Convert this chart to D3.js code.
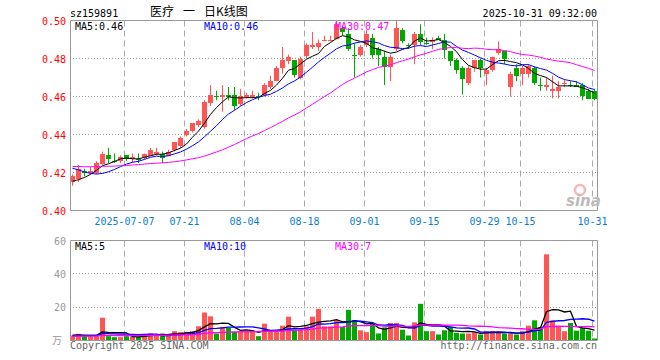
<!DOCTYPE html>
<html>
<head>
<meta charset="utf-8">
<script src="https://cdn.jsdelivr.net/npm/d3@7"></script>
<style>
body { margin: 0; background: #fff; }
svg { display: block; }
text { font-family: "DejaVu Sans Mono", monospace; font-size: 10px; }
</style>
</head>
<body>
<svg width="660" height="360"></svg>
<script>
// trading days shown (2025)
var dates = ["06-24","06-25","06-26","06-27","06-30","07-01","07-02","07-03","07-04",
  "07-07","07-08","07-09","07-10","07-11","07-14","07-15","07-16","07-17","07-18",
  "07-21","07-22","07-23","07-24","07-25","07-28","07-29","07-30","07-31","08-01",
  "08-04","08-05","08-06","08-07","08-08","08-11","08-12","08-13","08-14","08-15",
  "08-18","08-19","08-20","08-21","08-22","08-25","08-26","08-27","08-28","08-29",
  "09-01","09-02","09-03","09-04","09-05","09-08","09-09","09-10","09-11","09-12",
  "09-15","09-16","09-17","09-18","09-19","09-22","09-23","09-24","09-25","09-26",
  "09-29","09-30","10-09","10-10","10-13","10-14","10-15","10-16","10-17",
  "10-20","10-21","10-22","10-23","10-24","10-27","10-28","10-29","10-30","10-31"];

var open = [.415,.417,.421,.420,.420,.425,.429,.426,.426,.429,
  .427,.427,.428,.429,.430,.430,.429,.432,.434,.440,
  .442,.445,.444,.457,.460,.460,.461,.461,.456,.460,
  .460,.460,.461,.465,.468,.475,.479,.479,.470,.481,
  .486,.486,.490,.490,.490,.496,.493,.482,.482,.487,
  .491,.485,.481,.476,.485,.495,.487,.487,.493,.488,
  .489,.491,.490,.484,.479,.475,.467,.475,.479,.472,
  .474,.483,.484,.465,.475,.472,.472,.475,.466,.465,
  .463,.463,.467,.466,.466,.466,.463,.463];
var high = [.419,.424,.422,.423,.426,.431,.433,.430,.429,.429,
  .430,.430,.430,.433,.433,.431,.432,.436,.439,.443,
  .446,.448,.458,.466,.463,.466,.465,.465,.464,.462,
  .463,.462,.467,.471,.476,.486,.482,.479,.481,.488,
  .494,.490,.492,.492,.500,.497,.496,.488,.487,.495,
  .493,.486,.484,.482,.500,.496,.488,.494,.498,.491,
  .491,.492,.493,.484,.480,.476,.476,.479,.480,.475,
  .481,.489,.484,.473,.477,.476,.477,.476,.470,.470,
  .471,.468,.469,.468,.468,.467,.464,.464];
var low = [.413,.415,.418,.419,.419,.424,.425,.425,.425,.426,
  .425,.425,.427,.429,.429,.425,.429,.431,.433,.439,
  .441,.444,.443,.455,.458,.452,.458,.453,.455,.459,
  .459,.458,.460,.464,.468,.472,.477,.470,.469,.480,
  .485,.484,.489,.489,.490,.492,.484,.470,.481,.486,
  .480,.476,.466,.468,.484,.488,.485,.477,.487,.487,
  .485,.490,.480,.476,.472,.461,.466,.473,.470,.466,
  .473,.482,.477,.460,.468,.466,.470,.466,.463,.463,
  .459,.459,.465,.465,.465,.458,.459,.458];
var close = [.418,.422,.420,.421,.425,.430,.427,.426,.428,.427,
  .428,.427,.430,.432,.431,.428,.431,.436,.438,.442,
  .446,.447,.457,.461,.460,.461,.460,.455,.460,.461,
  .461,.460,.466,.468,.475,.479,.481,.471,.480,.487,
  .487,.488,.490,.490,.498,.494,.485,.482,.486,.493,
  .482,.482,.476,.481,.496,.489,.487,.493,.489,.488,
  .490,.490,.485,.479,.474,.469,.475,.479,.475,.474,
  .481,.485,.480,.472,.471,.475,.476,.467,.466,.466,
  .464,.465,.467,.466,.465,.460,.459,.459];

// volume, 万
var volume = [3.0,4.0,2.6,2.6,3.0,13.7,2.6,2.0,2.0,2.6,
  2.2,2.2,3.6,4.2,3.0,4.2,3.0,5.6,5.0,5.0,
  5.6,8.5,16.8,14.5,4.2,8.1,7.5,5.2,5.6,5.6,
  5.6,2.6,10.1,5.6,5.6,8.9,14.3,6.5,6.9,8.5,
  14.3,19.0,8.5,8.5,12.1,8.1,18.4,12.1,6.1,5.0,
  10.1,4.2,7.9,10.5,10.5,6.5,3.0,10.9,22.0,5.6,
  5.6,3.6,6.1,8.1,4.6,4.2,4.2,5.0,3.6,5.6,
  5.6,4.6,4.2,4.2,3.6,5.6,8.9,12.1,8.1,51.7,
  12.1,8.1,5.6,10.5,5.9,7.5,5.9,1.2];

// sessions before the window, estimated from where the MA lines start
var priorClose = [.422,.424,.421,.423,.425,.426,.424,.422,.423,.421,
  .420,.422,.424,.425,.423,.423,.426,.425,.426,.428,
  .430,.431,.429,.428,.427,.418,.414,.413,.414];
var priorVolume = [2.4,2.7,2.2,2.6,2.3,2.9,2.5,2.1,2.6,2.4,
  2.8,2.2,2.5,2.3,2.7,2.4,2.6,2.2,2.5,2.3,
  2.6,2.4,2.2,2.5,2.7,3.1,3.4,3.0,3.2];

var tickDates = ["07-07","07-21","08-04","08-18","09-01","09-15","09-29","10-15","10-31"];
var tickLabels = ["2025-07-07","07-21","08-04","08-18","09-01","09-15","09-29","10-15","10-31"];
var priceTicks = [0.40, 0.42, 0.44, 0.46, 0.48, 0.50];
var volTicks = [20, 40, 60];
var priceMaText = ["MA5:0.46", "MA10:0.46", "MA30:0.47"];
var volMaText = ["MA5:5", "MA10:10", "MA30:7"];

var svg = d3.select("svg");
var RED = "#ff5555", GREEN = "#00a800";
var maColors = ["#000000", "#0000ff", "#ff00ff"];

var x = d3.scaleBand().domain(dates).range([70, 598]);
var yP = d3.scaleLinear().domain([0.40, 0.50]).range([210.5, 20.5]);
var yV = d3.scaleLinear().domain([0, 60]).range([340.5, 240.5]);

function upColor(i) {
    if (close[i] > open[i]) return RED;
    if (close[i] < open[i]) return GREEN;
    return (i == 0 || close[i] >= close[i - 1]) ? RED : GREEN;
}

function movingAvg(prior, series, n) {
    var all = prior.concat(series), off = prior.length;
    return series.map(function(d, i) {
        return d3.mean(all.slice(i + off - n + 1, i + off + 1));
    });
}

// grids
[[20.5, 210.5], [240.5, 340.5]].forEach(function(r) {
    svg.append("g").selectAll("line")
        .data(tickDates)
        .enter().append("line")
        .attr("x1", function(d) { return x(d) + 0.5; })
        .attr("x2", function(d) { return x(d) + 0.5; })
        .attr("y1", r[0]).attr("y2", r[1])
        .attr("stroke", "#aaa")
        .attr("stroke-dasharray", "6,4");
});
svg.append("g").selectAll("line")
    .data(priceTicks.slice(1, 5))
    .enter().append("line")
    .attr("x1", 70).attr("x2", 597)
    .attr("y1", function(d) { return Math.round(yP(d) - 0.5) + 0.5; })
    .attr("y2", function(d) { return Math.round(yP(d) - 0.5) + 0.5; })
    .attr("stroke", "#999")
    .attr("stroke-dasharray", "1,2");
svg.append("g").selectAll("line")
    .data([20, 40])
    .enter().append("line")
    .attr("x1", 70).attr("x2", 597)
    .attr("y1", function(d) { return Math.round(yV(d) - 0.5) + 0.5; })
    .attr("y2", function(d) { return Math.round(yV(d) - 0.5) + 0.5; })
    .attr("stroke", "#999")
    .attr("stroke-dasharray", "1,2");

// candles
var candle = svg.append("g").selectAll("g")
    .data(dates)
    .enter().append("g");
candle.append("line")
    .attr("x1", function(d) { return x(d) + 2.5; })
    .attr("x2", function(d) { return x(d) + 2.5; })
    .attr("y1", function(d, i) { return yP(high[i]); })
    .attr("y2", function(d, i) { return yP(low[i]); })
    .attr("stroke", function(d, i) { return upColor(i); });
candle.append("rect")
    .attr("x", function(d) { return x(d); })
    .attr("width", 5)
    .attr("y", function(d, i) { return Math.round(yP(Math.max(open[i], close[i]))); })
    .attr("height", function(d, i) {
        return Math.max(1, Math.round(yP(Math.min(open[i], close[i])) - yP(Math.max(open[i], close[i]))));
    })
    .attr("fill", function(d, i) { return upColor(i); });

// volume bars
svg.append("g").selectAll("rect")
    .data(volume)
    .enter().append("rect")
    .attr("x", function(d, i) { return x(dates[i]); })
    .attr("width", 5)
    .attr("y", function(d) { return yV(d); })
    .attr("height", function(d) { return 340.5 - yV(d); })
    .attr("fill", function(d, i) { return upColor(i); });

// moving averages
var lineP = d3.line().x(function(d, i) { return x(dates[i]) + 2.5; }).y(function(d) { return yP(d); });
var lineV = d3.line().x(function(d, i) { return x(dates[i]) + 2.5; }).y(function(d) { return yV(d); });
[5, 10, 30].forEach(function(n, k) {
    svg.append("path")
        .attr("d", lineP(movingAvg(priorClose, close, n)))
        .attr("fill", "none").attr("stroke", maColors[k]).attr("stroke-width", 1);
    svg.append("path")
        .attr("d", lineV(movingAvg(priorVolume, volume, n)))
        .attr("fill", "none").attr("stroke", maColors[k]).attr("stroke-width", 1.3);
});

// frames
svg.append("path")
    .attr("d", "M70.5,20.5H597.5V210.5H70.5Z M70.5,240.5H597.5V340.5H70.5Z")
    .attr("fill", "none").attr("stroke", "#999");

// axis labels
svg.append("g").selectAll("text")
    .data(priceTicks)
    .enter().append("text")
    .attr("x", 66).attr("y", function(d) { return yP(d) + 4; })
    .attr("text-anchor", "end").attr("fill", "#ff0000")
    .text(function(d) { return d.toFixed(2); });
svg.append("g").selectAll("text")
    .data(volTicks)
    .enter().append("text")
    .attr("x", 66).attr("y", function(d) { return yV(d) + 4; })
    .attr("text-anchor", "end").attr("fill", "#999")
    .text(function(d) { return d; });
svg.append("text").attr("x", 57).attr("y", 344).attr("text-anchor", "middle")
    .attr("fill", "#999").style("font-family", "'Noto Sans CJK SC'").text("万");
svg.append("g").selectAll("text")
    .data(tickDates)
    .enter().append("text")
    .attr("x", function(d) { return x(d) + 0.5; }).attr("y", 225)
    .attr("text-anchor", "middle").attr("fill", "#0a80d0")
    .text(function(d, i) { return tickLabels[i]; });

// legends
[75, 204, 335].forEach(function(lx, k) {
    svg.append("text").attr("x", lx).attr("y", 30).attr("fill", maColors[k]).text(priceMaText[k]);
    svg.append("text").attr("x", lx).attr("y", 250).attr("fill", maColors[k]).text(volMaText[k]);
});

// header and footer
svg.append("text").attr("x", 70).attr("y", 17).attr("fill", "#000").text("sz159891");
[["医疗", 150], ["一", 183], ["日K线图", 204]].forEach(function(t) {
    svg.append("text").attr("x", t[1]).attr("y", 16).attr("fill", "#000")
        .style("font-family", "'Noto Sans CJK SC'").style("font-size", "12px")
        .text(t[0]);
});
svg.append("text").attr("x", 597).attr("y", 17).attr("text-anchor", "end").attr("fill", "#000")
    .text("2025-10-31 09:32:00");
svg.append("text").attr("x", 70).attr("y", 349).attr("fill", "#666").text("Copyright 2025 SINA.COM");
svg.append("text").attr("x", 597).attr("y", 349).attr("text-anchor", "end").attr("fill", "#666")
    .text("http://finance.sina.com.cn");

// sina mark
svg.append("circle").attr("cx", 580).attr("cy", 190).attr("r", 5)
    .attr("fill", "none").attr("stroke", "#f6b8b8").attr("stroke-width", 2.5);
svg.append("text").attr("x", 566).attr("y", 206).attr("fill", "#bbb")
    .style("font-family", "'DejaVu Sans'").style("font-size", "15px")
    .style("font-style", "italic").style("font-weight", "bold").text("sina");
</script>
</body>
</html>
